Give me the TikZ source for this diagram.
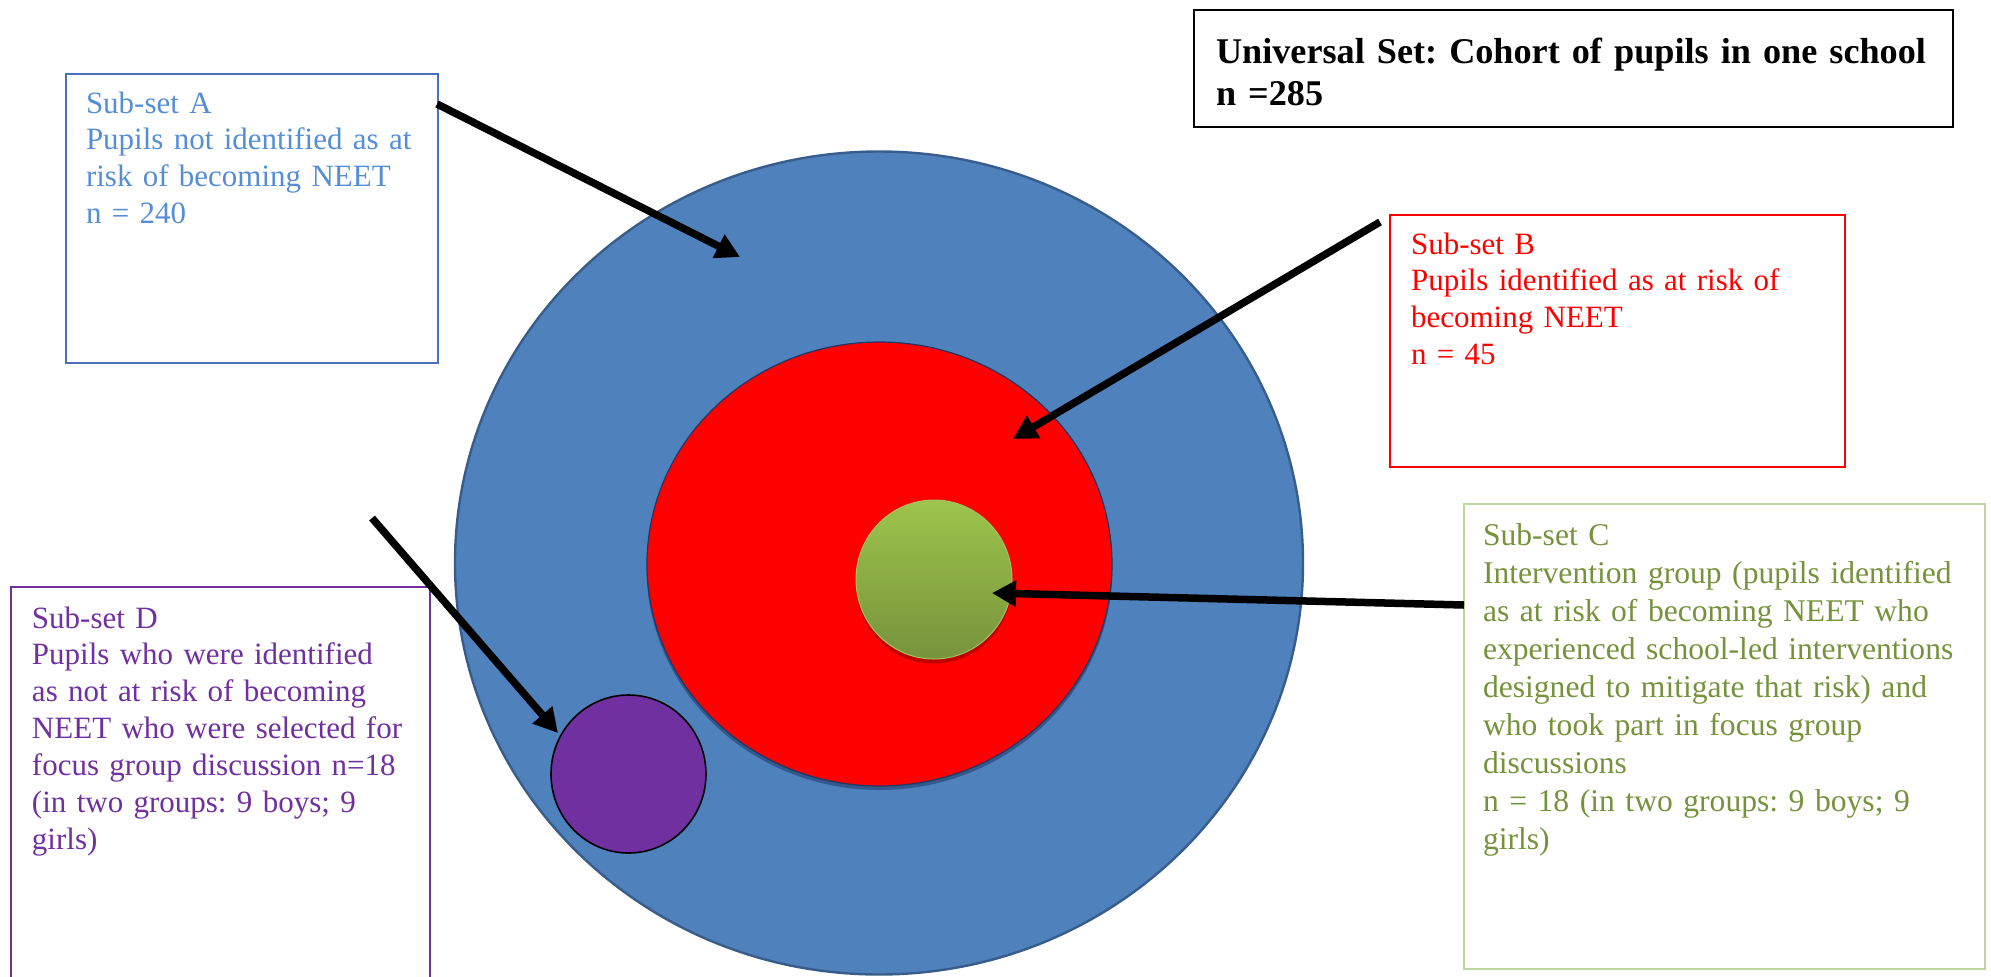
\documentclass[tikz,border=0pt]{standalone}
\usepackage{fontspec}
\setmainfont{Liberation Serif}
\usetikzlibrary{arrows.meta,calc,shapes.geometric}

% set colours
\definecolor{setAtext}{RGB}{85,142,213}
\definecolor{setAline}{RGB}{75,112,188}
\definecolor{setCtext}{RGB}{118,146,60}
\definecolor{setCline}{RGB}{190,215,160}
\definecolor{setDcol}{RGB}{112,48,160}
\definecolor{outerfill}{RGB}{79,129,189}
\definecolor{outerline}{RGB}{56,93,138}
\definecolor{innerline}{RGB}{31,56,100}
\definecolor{greentop}{RGB}{157,196,75}
\definecolor{greenbot}{RGB}{119,147,60}
\definecolor{greenline}{RGB}{160,195,95}

\begin{document}
\begin{tikzpicture}[x=0.5pt,y=-0.5pt,
  every node/.style={inner sep=0pt,outer sep=0pt},
  setbox/.style={draw,line width=0.75pt,rectangle,anchor=north west},
  settext/.style={anchor=base west,align=left,text width=#1,
    font=\fontsize{15.5pt}{18.45pt}\selectfont\frenchspacing},
  blob/.style={ellipse},
  pointer/.style={line width=3.75pt,-{Triangle[length=12pt,width=12.5pt]}}]
\useasboundingbox (0,0) rectangle (1991,976);

% nested sets
\node[blob,fill=outerfill,draw=outerline,line width=1.2pt,
  minimum width=424pt,minimum height=411.5pt] (setU) at (879,563) {};
\node[blob,fill=innerline,opacity=0.55,
  minimum width=233pt,minimum height=222pt] (shadowB) at (879.5,568) {};
\node[blob,fill=red,draw=innerline,line width=0.6pt,
  minimum width=232.5pt,minimum height=222pt] (setB) at (879.5,564) {};
\node[blob,fill=red!75!black,
  minimum width=78pt,minimum height=79.5pt] (shadowC) at (934,584) {};
\node[blob,top color=greentop,bottom color=greenbot,draw=greenline,line width=0.5pt,
  minimum width=78pt,minimum height=79.5pt] (setC) at (934,579.5) {};
\node[blob,fill=setDcol,draw=black,line width=0.8pt,
  minimum width=77.5pt,minimum height=79pt] (setD) at (628.5,774) {};

% caption boxes
\node[setbox,draw=black,line width=1.25pt,minimum width=379.5pt,minimum height=58.5pt]
  (boxU) at (1194,10) {};
\node[anchor=base west,align=left,text width=375pt,
  font=\fontsize{18.1pt}{21pt}\selectfont\bfseries\frenchspacing] (textU)
  at ($(boxU.north west)+(22,53)$)
  {Universal Set: Cohort of pupils in one school\\ n =285};

\node[setbox,draw=setAline,minimum width=186pt,minimum height=144.5pt]
  (boxA) at (66,74) {};
\node[settext=175pt,text=setAtext] (textA) at ($(boxA.north west)+(20,39)$)
  {Sub-set A\\ Pupils not identified as at\\ risk of becoming NEET\\ n = 240};

\node[setbox,draw=red,minimum width=227.5pt,minimum height=126pt]
  (boxB) at (1390,215) {};
\node[settext=215pt,text=red] (textB) at ($(boxB.north west)+(21,39)$)
  {Sub-set B\\ Pupils identified as at risk of\\ becoming NEET\\ n = 45};

\node[setbox,draw=setCline,minimum width=260.5pt,minimum height=232.5pt]
  (boxC) at (1464,504) {};
\node[settext=250pt,text=setCtext,font=\fontsize{15.8pt}{19.05pt}\selectfont\frenchspacing]
  (textC) at ($(boxC.north west)+(19,41)$)
  {Sub-set C\\ Intervention group (pupils identified\\ as at risk of becoming NEET who\\
   experienced school-led interventions\\ designed to mitigate that risk) and\\
   who took part in focus group\\ discussions\\ n = 18 (in two groups: 9 boys; 9\\ girls)};

\node[setbox,draw=setDcol,minimum width=209.5pt,minimum height=220pt]
  (boxD) at (11,587) {};
\node[settext=200pt,text=setDcol] (textD) at ($(boxD.north west)+(21,41)$)
  {Sub-set D\\ Pupils who were identified\\ as not at risk of becoming\\
   NEET who were selected for\\ focus group discussion n=18\\
   (in two groups: 9 boys; 9\\ girls)};

% pointer ends
\coordinate (tailA) at (437,104);
\coordinate (tipA) at (740,257);
\coordinate (tailB) at (1380,222);
\coordinate (tipB) at (1013,439);
\coordinate (tailC) at (boxC.west |- 0,605);
\coordinate (tipC) at (992,593);
\coordinate (tailD) at (372,518);
\coordinate (tipD) at (558,733);

\draw[pointer] (tailA) -- (tipA);
\draw[pointer] (tailB) -- (tipB);
\draw[pointer] (tailC) -- (tipC);
\draw[pointer] (tailD) -- (tipD);
\end{tikzpicture}
\end{document}
